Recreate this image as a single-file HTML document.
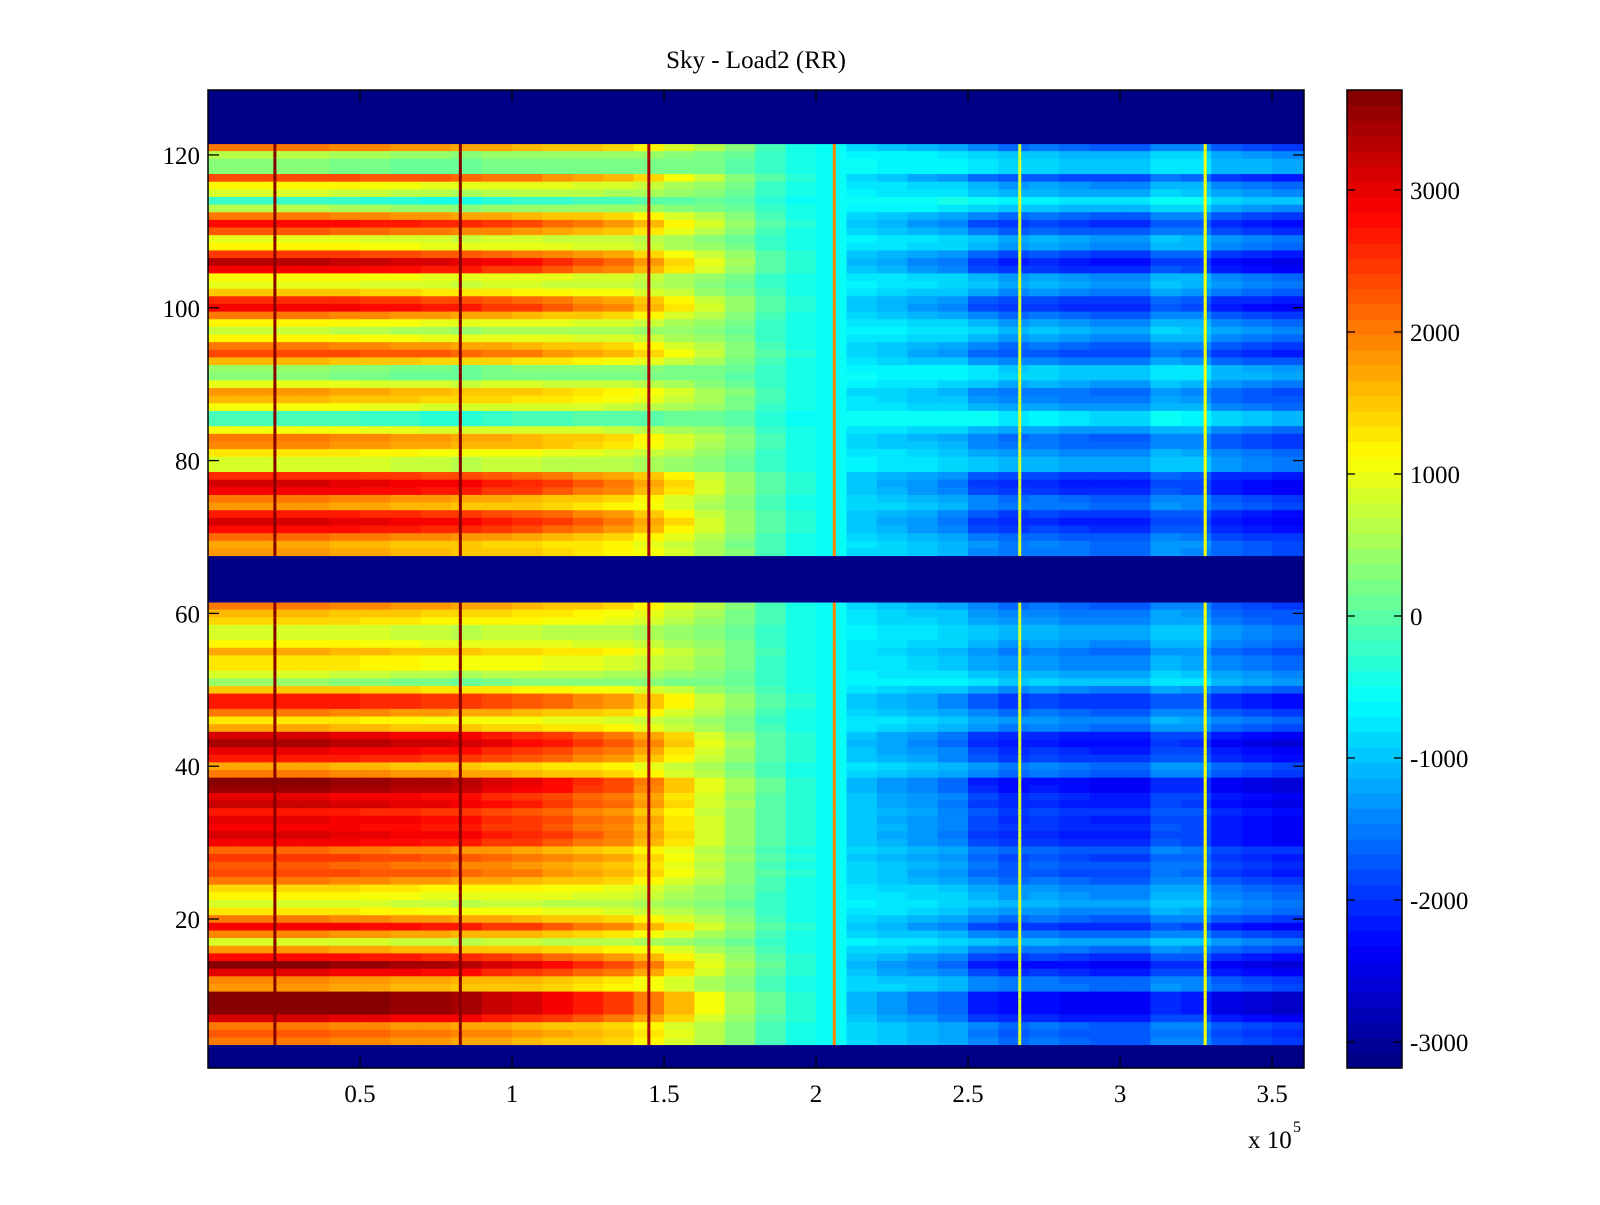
<!DOCTYPE html>
<html><head><meta charset="utf-8"><style>
body{margin:0;background:#fff;}
svg text{font-family:"Liberation Serif",serif;fill:#000;}
</style></head><body>
<svg id="chart" width="1600" height="1200" xmlns="http://www.w3.org/2000/svg">
<rect width="1600" height="1200" fill="#fff"/>
<text x="756" y="68" font-size="25" text-anchor="middle">Sky - Load2 (RR)</text>
<g id="cells"></g>
<g id="axes"></g>
<g id="cbar"></g>
</svg>
<script>
// ---- data ----
const rowsTopIdx = [121,120,119,118,117,116,115,114,113,112,111,110,109,108,107,106,105,104,103,102,101,100,99,98,97,96,95,94,93,92,91,90,89,88,87,86,85,84,83,82,81,80,79,78,77,76,75,74,73,72,71,70,69,68];
const rowsTopVal = [2000,600,300,300,2400,1200,800,-200,600,2000,2800,2200,1000,1200,2500,3300,2900,1200,1000,1500,2600,2900,2000,1200,700,1200,2000,2400,1600,400,300,1000,1800,1600,1100,-100,-100,1100,2000,1900,1300,900,900,2600,3100,2900,2000,1800,2700,3100,2800,2100,1700,1800];
const rowsBotIdx = [61,60,59,58,57,56,55,54,53,52,51,50,49,48,47,46,45,44,43,42,41,40,39,38,37,36,35,34,33,32,31,30,29,28,27,26,25,24,23,22,21,20,19,18,17,16,15,14,13,12,11,10,9,8,7,6,5,4];
const rowsBotVal = [2000,1600,1400,900,900,1200,1700,1300,1300,800,400,1500,2700,2700,2000,1300,1700,3100,3400,3000,2700,1700,2000,3600,3500,3000,3200,2700,3000,2900,3100,2900,2100,2500,2200,2400,2000,1400,1200,900,1300,2000,2900,1900,900,1800,2800,3600,3000,1900,1800,3700,3700,3700,3100,2000,2200,2000];
const emptyRows = [1,2,3,62,63,64,65,66,67,122,123,124,125,126,127,128];
const emptyValue = -3183;
// column bins (x in units of 1e5, bin start), base value and stripe gain
const colStart = [0,0.1,0.2,0.3,0.4,0.5,0.6,0.7,0.8,0.9,1.0,1.1,1.2,1.3,1.4,1.5,1.6,1.7,1.8,1.9,2.0,2.1,2.2,2.3,2.4,2.5,2.6,2.7,2.8,2.9,3.0,3.1,3.2,3.3,3.4,3.5];
const colBase = [2000,2000,2000,2000,1950,1900,1850,1800,1750,1700,1650,1550,1450,1350,1150,900,600,300,-100,-400,-600,-850,-950,-1050,-1150,-1450,-1600,-1550,-1650,-1700,-1700,-1400,-1450,-1750,-1850,-1950];
const colGain = [1,1,1,1,1,1,1,1,1,0.9,0.85,0.8,0.7,0.65,0.55,0.4,0.25,0.15,0.1,0.05,0,-0.15,-0.2,-0.25,-0.3,-0.42,-0.42,-0.42,-0.42,-0.42,-0.42,-0.4,-0.4,-0.42,-0.42,-0.42];
const spikeX = [0.22,0.83,1.45,2.06,2.67,3.28];
const spikeVal = [3650,3600,3400,1900,900,1100];
const xTicks = [0.5,1,1.5,2,2.5,3,3.5];
const xTickLabels = ["0.5","1","1.5","2","2.5","3","3.5"];
const yTicks = [20,40,60,80,100,120];
const cTicks = [-3000,-2000,-1000,0,1000,2000,3000];
const cMin = -3183, cMax = 3704;

// ---- scales ----
const L=208,R=1304,T=90,B=1068;
const xMin=0,xMax=3.605,yMin=0.5,yMax=128.5;
const xs=v=>L+(v-xMin)/(xMax-xMin)*(R-L);
const ys=v=>B-(v-yMin)/(yMax-yMin)*(B-T);
const CL=1347,CR=1402;
const cs=v=>B-(v-cMin)/(cMax-cMin)*(B-T);
function jet(v){
  let i=Math.floor((v-cMin)/(cMax-cMin)*64);i=Math.max(0,Math.min(63,i));
  const t=(i+0.5)/64;const c=x=>Math.round(255*Math.max(0,Math.min(1,x)));
  return `rgb(${c(1.5-Math.abs(4*t-3))},${c(1.5-Math.abs(4*t-2))},${c(1.5-Math.abs(4*t-1))})`;
}
const NS="http://www.w3.org/2000/svg";
function mk(tag,attrs,parent){const e=document.createElementNS(NS,tag);for(const k in attrs)e.setAttribute(k,attrs[k]);parent.appendChild(e);return e;}
const cells=document.getElementById('cells');
const rowIdx=rowsTopIdx.concat(rowsBotIdx), rowVal=rowsTopVal.concat(rowsBotVal);
rowIdx.forEach((r,k)=>{
  const delta=rowVal[k]-2000;
  const y0=ys(r+0.5),y1=ys(r-0.5);
  colStart.forEach((cx,c)=>{
    const x0=xs(cx),x1=xs(c<colStart.length-1?colStart[c+1]:xMax);
    let v=colBase[c]+delta*colGain[c];
    const e=mk('rect',{x:x0.toFixed(2),y:y0.toFixed(2),width:(x1-x0+0.6).toFixed(2),height:(y1-y0+0.6).toFixed(2),fill:jet(v)},cells);
    
    
  });
  spikeX.forEach((sx,s)=>{
    const e=mk('rect',{x:(xs(sx)-1.5).toFixed(2),y:y0.toFixed(2),width:3,height:(y1-y0+0.6).toFixed(2),fill:jet(spikeVal[s])},cells);
    
    
  });
});
emptyRows.forEach(r=>{
  const e=mk('rect',{x:L,y:ys(r+0.5).toFixed(2),width:R-L,height:(ys(r-0.5)-ys(r+0.5)+0.6).toFixed(2),fill:jet(emptyValue)},cells);
  
  
});
// axes
const ax=document.getElementById('axes');
mk('rect',{x:L,y:T,width:R-L,height:B-T,fill:'none',stroke:'#000','stroke-width':1.5},ax);
xTicks.forEach((t,i)=>{
  const x=xs(t);
  mk('line',{x1:x,y1:B,x2:x,y2:B-11,stroke:'#000','stroke-width':1.3},ax);
  mk('line',{x1:x,y1:T,x2:x,y2:T+11,stroke:'#000','stroke-width':1.3},ax);
  const e=mk('text',{x:x,y:B+34,'font-size':25,'text-anchor':'middle'},ax);e.textContent=xTickLabels[i];
  
  
});
yTicks.forEach(t=>{
  const y=ys(t);
  mk('line',{x1:L,y1:y,x2:L+11,y2:y,stroke:'#000','stroke-width':1.3},ax);
  mk('line',{x1:R,y1:y,x2:R-11,y2:y,stroke:'#000','stroke-width':1.3},ax);
  const e=mk('text',{x:L-8,y:y+9,'font-size':25,'text-anchor':'end'},ax);e.textContent=String(t);
  
  
});
const ex=mk('text',{x:1248,y:1148,'font-size':25},ax);ex.textContent='x 10';


const es=mk('text',{x:1293,y:1132,'font-size':16},ax);es.textContent='5';


// colorbar
const cb=document.getElementById('cbar');
for(let i=0;i<64;i++){
  const v0=cMin+(cMax-cMin)*i/64,v1=cMin+(cMax-cMin)*(i+1)/64;
  const e=mk('rect',{x:CL,y:cs(v1).toFixed(2),width:CR-CL,height:(cs(v0)-cs(v1)+0.6).toFixed(2),fill:jet((v0+v1)/2)},cb);
  
  
}
mk('rect',{x:CL,y:T,width:CR-CL,height:B-T,fill:'none',stroke:'#000','stroke-width':1.5},cb);
cTicks.forEach(t=>{
  const y=cs(t);
  mk('line',{x1:CL,y1:y,x2:CL+8,y2:y,stroke:'#000','stroke-width':1.3},cb);
  mk('line',{x1:CR,y1:y,x2:CR-8,y2:y,stroke:'#000','stroke-width':1.3},cb);
  const e=mk('text',{x:CR+8,y:y+9,'font-size':25},cb);e.textContent=String(t);
  
  
});
</script>
</body></html>
